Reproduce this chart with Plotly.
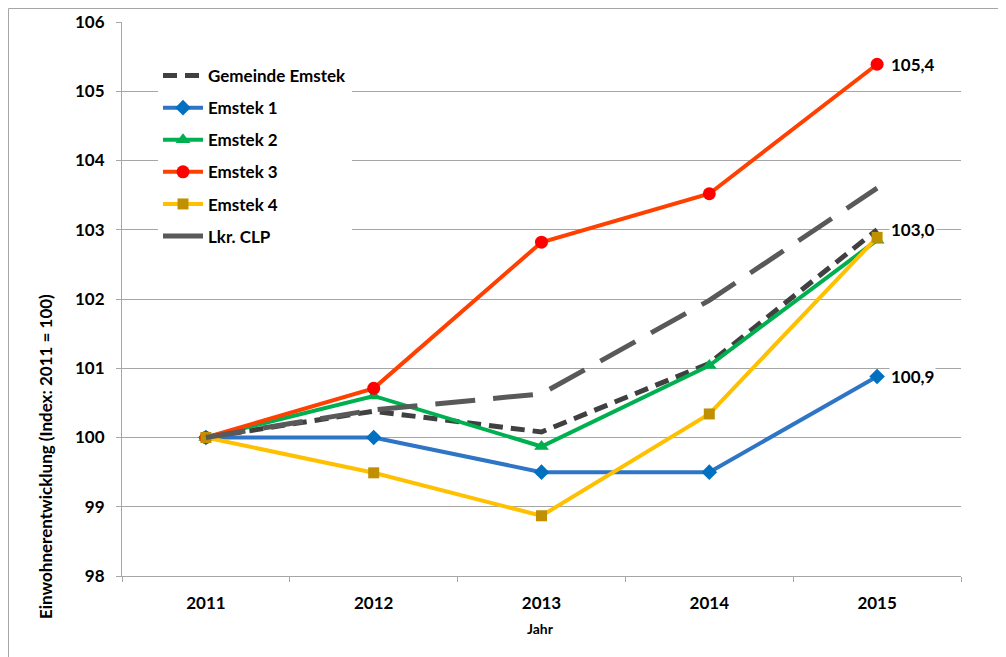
import plotly.graph_objects as go

years = ["2011", "2012", "2013", "2014", "2015"]
gemeinde_emstek = [100.0, 100.38, 100.08, 101.07, 103.0]
emstek_1 = [100.0, 100.0, 99.5, 99.5, 100.88]
emstek_2 = [100.0, 100.6, 99.87, 101.04, 102.85]
emstek_3 = [100.0, 100.71, 102.82, 103.52, 105.39]
emstek_4 = [100.0, 99.49, 98.87, 100.34, 102.89]
lkr_clp = [100.0, 100.4, 100.63, 101.98, 103.6]

labels = [("105,4", emstek_3[-1]), ("103,0", gemeinde_emstek[-1]), ("100,9", emstek_1[-1])]

FONT = "Lato"
BOLD = dict(family=FONT, size=17, color="black", weight="bold")

# page has an 8px body margin; plot area on screen: x 122..961, y 22..576
OFF = 8
PL, PR, PT, PB = 122, 961, 22, 576
PW, PH = PR - PL, PB - PT

fig = go.Figure()

series = [
    ("Gemeinde Emstek", gemeinde_emstek, dict(color="#404040", width=5, dash="14px,8px"), None),
    ("Emstek 1", emstek_1, dict(color="#2E75C6", width=4), dict(symbol="diamond", size=12, color="#0070C0")),
    ("Emstek 2", emstek_2, dict(color="#00B050", width=4), dict(symbol="triangle-up", size=13, color="#00B050")),
    ("Emstek 3", emstek_3, dict(color="#FF4000", width=4), dict(symbol="circle", size=13, color="#FF0000")),
    ("Emstek 4", emstek_4, dict(color="#FFC000", width=4), dict(symbol="square", size=11, color="#C09000")),
    ("Lkr. CLP", lkr_clp, dict(color="#595959", width=5, dash="40px,18px"), None),
]

for i, (name, vals, line, marker) in enumerate(series):
    fig.add_trace(go.Scatter(
        x=years, y=vals, name=name,
        mode="lines+markers" if marker else "lines",
        line=line, marker=marker, legendgroup=f"g{i}",
    ))

for txt, yv in labels:
    fig.add_annotation(x=len(years) - 1, y=yv, text=txt, showarrow=False,
                       xanchor="left", yanchor="middle", xshift=12, bgcolor="white",
                       font=BOLD)

fig.add_annotation(xref="paper", yref="paper", x=(45 - PL) / PW, y=(PB - 457) / PH,
                   xanchor="center", yanchor="middle",
                   text="Einwohnerentwicklung (Index: 2011 = 100)", textangle=-90,
                   showarrow=False, font=dict(family=FONT, size=17, color="black", weight="bold"))
fig.add_annotation(xref="paper", yref="paper", x=(540 - PL) / PW, y=(PB - 628) / PH,
                   xanchor="center", yanchor="middle",
                   text="Jahr", showarrow=False,
                   font=dict(family=FONT, size=14, color="black", weight="bold"))

fig.add_shape(type="rect", xref="paper", yref="paper",
              x0=(8.5 - PL) / PW, x1=(1030 - PL) / PW,
              y0=(PB - 680) / PH, y1=(PB - 8.5) / PH,
              line=dict(color="#A6A6A6", width=1), layer="below")

fig.update_layout(
    width=1006, height=657,
    margin=dict(l=PL - OFF, r=1006 - (PR - OFF), t=PT - OFF, b=657 - (PB - OFF), autoexpand=False),
    paper_bgcolor="white", plot_bgcolor="white",
    font=BOLD,
    showlegend=True,
    legend=dict(x=(158 - PL) / PW, y=(PB - 58) / PH, xanchor="left", yanchor="top",
                bgcolor="white", tracegroupgap=7, font=BOLD, itemwidth=40),
    xaxis=dict(type="category", range=[-0.5, 4.5], showgrid=False, showline=True,
               linecolor="#A6A6A6", linewidth=1, ticks="outside", tickson="boundaries",
               ticklen=5, tickcolor="#A6A6A6", tickfont=BOLD, ticklabelstandoff=12,
               automargin=False),
    yaxis=dict(range=[98, 106], dtick=1, showgrid=True, gridcolor="#A6A6A6", gridwidth=1,
               showline=True, linecolor="#A6A6A6", linewidth=1, ticks="outside", ticklen=5,
               tickcolor="#A6A6A6", tickfont=BOLD, zeroline=False, ticklabelstandoff=8,
               automargin=False),
)

fig.write_html("out.html")
